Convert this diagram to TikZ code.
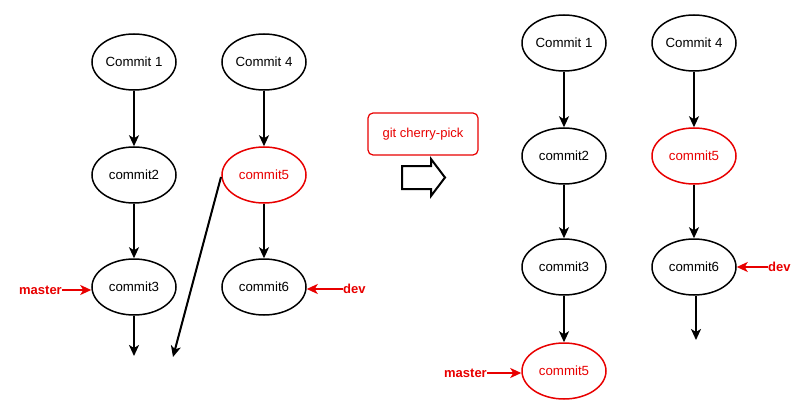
\documentclass[tikz,border=0pt]{standalone}
\usepackage{fontspec}
\setmainfont{Liberation Sans}
\usetikzlibrary{shapes.geometric,arrows.meta}
\definecolor{gred}{RGB}{232,0,0}
\begin{document}
\begin{tikzpicture}[x=1pt,y=-1pt,
  cnode/.style={ellipse,draw=black,line width=1.5pt,minimum width=84pt,minimum height=56pt,inner sep=0pt,font=\fontsize{13.3}{15}\selectfont,text=black},
  rnode/.style={cnode,draw=gred,text=gred},
  link/.style={line width=2pt,-{Stealth[length=11pt,width=10pt,inset=3pt]}},
  rlink/.style={line width=2pt,draw=gred,-{Stealth[length=11pt,width=10pt,inset=3pt]}},
  lbl/.style={font=\bfseries\fontsize{13}{15}\selectfont,text=gred,inner sep=0pt}
]
\useasboundingbox (0,0) rectangle (807,420);
% left
\node[cnode] (a1) at (134,62) {Commit 1};
\node[cnode] (a2) at (134,175) {commit2};
\node[cnode] (a3) at (134,287) {commit3};
\node[cnode] (a4) at (264,62) {Commit 4};
\node[rnode] (a5) at (264,175) {commit5};
\node[cnode] (a6) at (264,287) {commit6};
\coordinate (a3e) at (134,356);
\coordinate (a5e) at (173,357);
\draw[link] (a1) -- (a2);
\draw[link] (a2) -- (a3);
\draw[link] (a3) -- (a3e);
\draw[link] (a4) -- (a5);
\draw[link] (a5) -- (a6);
\draw[link] (221,177) -- (a5e);
\node[lbl,anchor=east] (am) at (62,290) {master};
\node[lbl,anchor=west] (ad) at (343,289) {dev};
\draw[rlink] (am.east) -- (a3.west |- am.east);
\draw[rlink] (ad.west) -- (a6.east |- ad.west);
% middle
\node[draw=gred,line width=1.2pt,rounded corners=5pt,minimum width=110pt,minimum height=42pt,text=gred,font=\fontsize{13}{15}\selectfont] (cp) at (423,134) {git cherry-pick};
\draw[line width=2pt,line join=miter] (402,166) -- (431,166) -- (431,159) -- (445,177.5) -- (431,196) -- (431,189) -- (402,189) -- cycle;
% right
\node[cnode] (b1) at (564,43) {Commit 1};
\node[cnode] (b2) at (564,156) {commit2};
\node[cnode] (b3) at (564,267) {commit3};
\node[rnode] (b35) at (564,371) {commit5};
\node[cnode] (b4) at (694,43) {Commit 4};
\node[rnode] (b5) at (694,156) {commit5};
\node[cnode] (b6) at (694,267) {commit6};
\coordinate (b6e) at (696,340);
\draw[link] (b1) -- (b2);
\draw[link] (b2) -- (b3);
\draw[link] (b3) -- (b35);
\draw[link] (b4) -- (b5);
\draw[link] (b5) -- (b6);
\draw[link] (b6.south -| b6e) -- (b6e);
\node[lbl,anchor=east] (bm) at (487,373) {master};
\node[lbl,anchor=west] (bd) at (768,267) {dev};
\draw[rlink] (bm.east) -- (b35.west |- bm.east);
\draw[rlink] (bd.west) -- (b6.east |- bd.west);
\end{tikzpicture}
\end{document}
